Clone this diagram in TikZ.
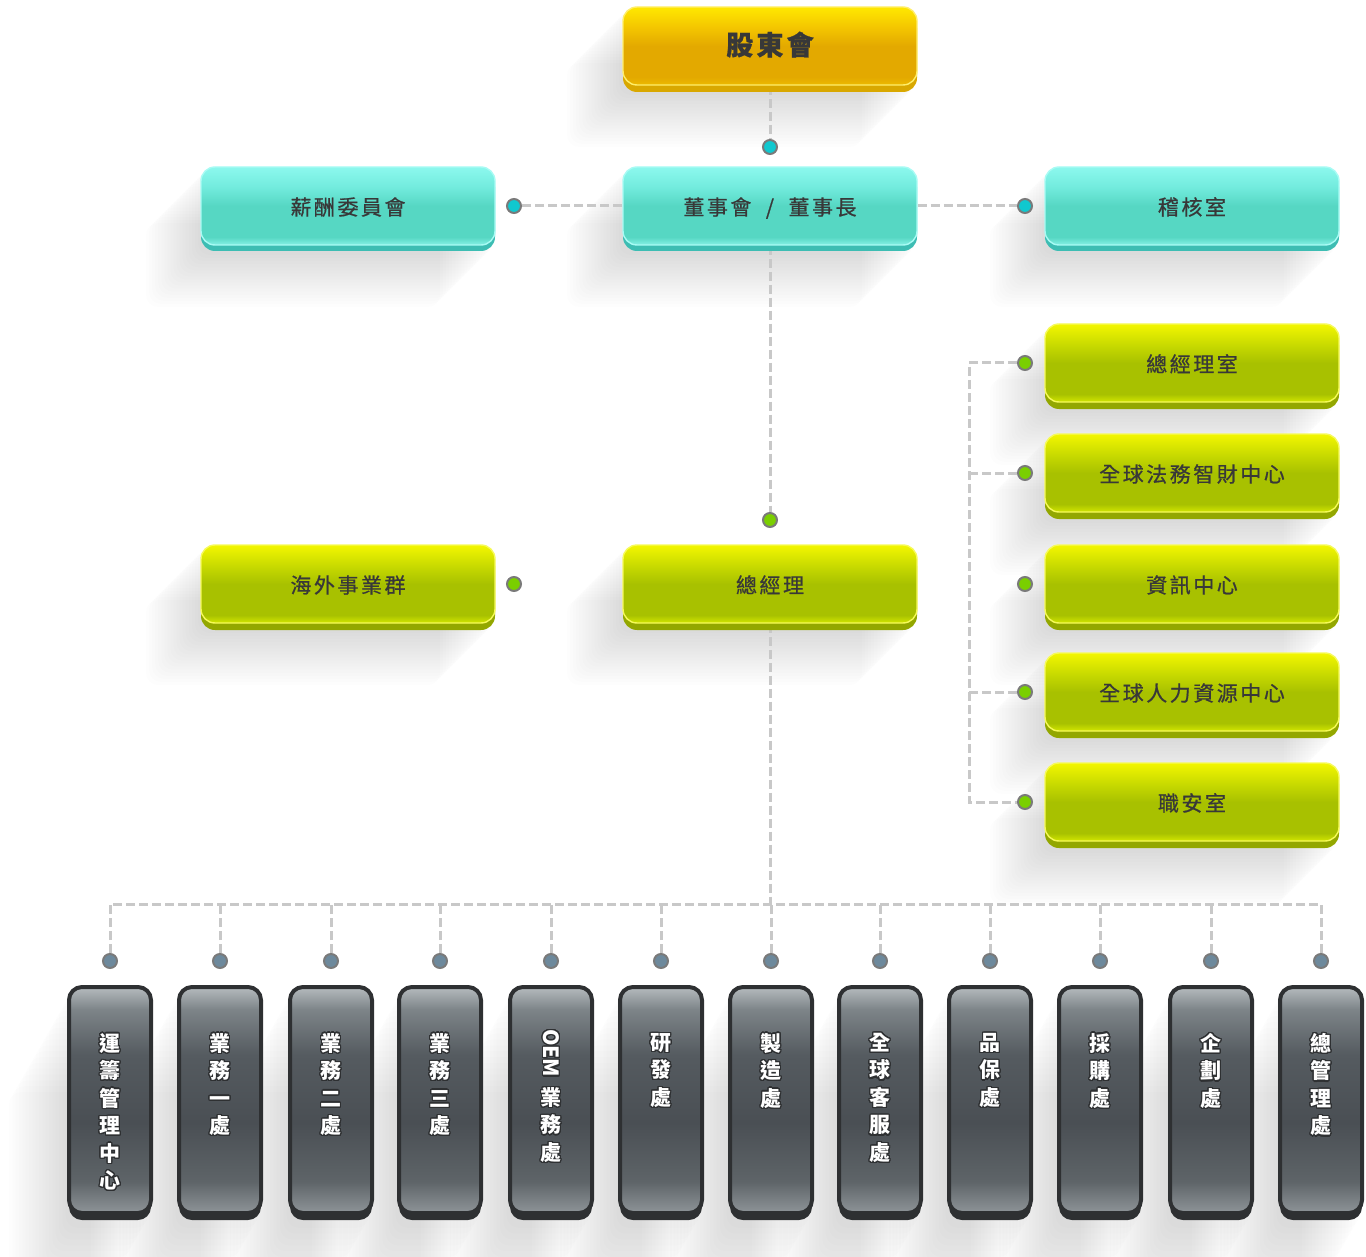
\documentclass[tikz,border=0pt]{standalone}
\usepackage{fontspec}
\usepackage{contour}
\usetikzlibrary{backgrounds}
\newfontfamily\cjk[LetterSpace=12,FakeBold=0.7]{Noto Sans CJK TC}
\newfontfamily\cjkv{Noto Sans CJK TC}
\contourlength{1.2pt}
\contournumber{24}

\definecolor{goldA}{HTML}{FFE800}
\definecolor{goldB}{HTML}{F4C600}
\definecolor{goldC}{HTML}{E3A900}
\definecolor{goldD}{HTML}{EDBA00}
\definecolor{goldR}{HTML}{D9A800}
\definecolor{goldL}{HTML}{FFEE6A}
\definecolor{cyanA}{HTML}{8CF8EE}
\definecolor{cyanB}{HTML}{72EBDD}
\definecolor{cyanC}{HTML}{56D7C3}
\definecolor{cyanD}{HTML}{86F1E6}
\definecolor{cyanR}{HTML}{3DBDB3}
\definecolor{cyanL}{HTML}{A8FBF4}
\definecolor{greenA}{HTML}{F3F600}
\definecolor{greenB}{HTML}{C9DB00}
\definecolor{greenC}{HTML}{A8C100}
\definecolor{greenD}{HTML}{D3E700}
\definecolor{greenR}{HTML}{93A700}
\definecolor{greenL}{HTML}{F6FA5A}
\definecolor{grayA}{HTML}{B5BBBE}
\definecolor{grayB}{HTML}{7D8488}
\definecolor{grayC}{HTML}{555B60}
\definecolor{grayD}{HTML}{4A4F54}
\definecolor{grayE}{HTML}{5E6468}
\definecolor{grayF}{HTML}{8E9498}
\definecolor{grayedge}{HTML}{2E3032}
\definecolor{txt}{HTML}{383838}
\definecolor{dashc}{HTML}{C8C8C8}
\definecolor{dotedge}{HTML}{7A7A7A}
\definecolor{dotcyan}{HTML}{10C8CF}
\definecolor{dotgreen}{HTML}{7ACF00}
\definecolor{dotblue}{HTML}{6D899C}

\pgfdeclareverticalshading{goldglass}{100bp}{color(0bp)=(goldD); color(25bp)=(goldD); color(30bp)=(goldC); color(50bp)=(goldC); color(62bp)=(goldB); color(75bp)=(goldA); color(100bp)=(goldA)}
\pgfdeclareverticalshading{cyanglass}{100bp}{color(0bp)=(cyanD); color(25bp)=(cyanD); color(30bp)=(cyanC); color(50bp)=(cyanC); color(62bp)=(cyanB); color(75bp)=(cyanA); color(100bp)=(cyanA)}
\pgfdeclareverticalshading{greenglass}{100bp}{color(0bp)=(greenD); color(25bp)=(greenD); color(30bp)=(greenC); color(50bp)=(greenC); color(62bp)=(greenB); color(75bp)=(greenA); color(100bp)=(greenA)}
\pgfdeclareverticalshading{grayglass}{100bp}{color(0bp)=(grayF); color(25bp)=(grayF); color(32bp)=(grayE); color(45bp)=(grayD); color(60bp)=(grayC); color(70bp)=(grayB); color(75bp)=(grayA); color(100bp)=(grayA)}

\def\castshade(#1,#2,#3,#4,#5,#6){\foreach \k in {1,...,18}{\fill[castfill] (#1-\k*#5/18,#2+\k*#6/18) rectangle (#3-\k*#5/18,#4+\k*#6/18);}}
\newcommand\ct[1]{\contour{grayedge}{#1}}

\tikzset{
  castfill/.style={fill=black, fill opacity=0.0065, rounded corners=12pt},
  box/.style={rectangle, rounded corners=14pt, minimum width=294pt, minimum height=78pt, inner sep=0pt, text=txt, line width=1.4pt, text height=24pt, text depth=6pt, font=\cjk\fontsize{21}{21}\selectfont},
  goldbox/.style={box, shade, shading=goldglass, draw=goldL, preaction={fill=goldR, transform canvas={yshift=-7pt}}},
  cyanbox/.style={box, shade, shading=cyanglass, draw=cyanL, preaction={fill=cyanR, transform canvas={yshift=-6pt}}},
  greenbox/.style={box, shade, shading=greenglass, draw=greenL, preaction={fill=greenR, transform canvas={yshift=-7pt}}},
  graybox/.style={rectangle, rounded corners=13pt, minimum width=82pt, minimum height=226pt, inner sep=0pt, shade, shading=grayglass, draw=grayedge, line width=4pt, preaction={fill=grayedge, transform canvas={yshift=-7pt}}},
  vtext/.style={anchor=north, yshift=-48pt, align=center, inner sep=0pt, text=white, font=\cjkv\bfseries\fontsize{21}{27.5}\selectfont},
  dot/.style={circle, minimum size=14pt, inner sep=0pt, draw=dotedge, line width=2pt},
  cyandot/.style={dot, fill=dotcyan},
  greendot/.style={dot, fill=dotgreen},
  bluedot/.style={dot, fill=dotblue},
  link/.style={draw=dashc, line width=3pt, dash pattern=on 9pt off 4pt}
}

\begin{document}
\begin{tikzpicture}[x=1pt, y=-1pt]
\useasboundingbox (0,0) rectangle (1366,1257);

\node[goldbox, font=\cjk\bfseries\fontsize{27}{27}\selectfont, text height=26pt, text depth=8pt] (gudong) at (770,46) {股東會};

\node[cyanbox] (xinchou) at (348,206) {薪酬委員會};
\node[cyanbox] (dongshi) at (770,206) {董事會\ \ /\ \ 董事長};
\node[cyanbox] (jihe) at (1192,206) {稽核室};

\node[greenbox] (haiwai) at (348,584) {海外事業群};
\node[greenbox] (zong) at (770,584) {總經理};

\node[greenbox] (zongshi) at (1192,363) {總經理室};
\node[greenbox] (fawu) at (1192,473) {全球法務智財中心};
\node[greenbox] (zixun) at (1192,584) {資訊中心};
\node[greenbox] (renli) at (1192,692) {全球人力資源中心};
\node[greenbox] (zhian) at (1192,802) {職安室};

\node[cyandot] (dtop) at (770,147) {};
\node[cyandot] (dleft) at (514,206) {};
\node[cyandot] (dright) at (1025,206) {};
\node[greendot] (dzong) at (770,520) {};
\node[greendot] (dhaiwai) at (514,584) {};
\node[greendot] (r1) at (1025,363) {};
\node[greendot] (r2) at (1025,473) {};
\node[greendot] (r3) at (1025,584) {};
\node[greendot] (r4) at (1025,692) {};
\node[greendot] (r5) at (1025,802) {};

\coordinate (brk) at (969,363);
\coordinate (bus) at (770,904);

\node[graybox] (g1) at (110,1100) {};
\node[vtext] (t1) at (g1.north) {\ct{運}\\\ct{籌}\\\ct{管}\\\ct{理}\\\ct{中}\\\ct{心}};
\node[bluedot] (b1) at (110,961) {};

\node[graybox] (g2) at (220,1100) {};
\node[vtext] (t2) at (g2.north) {\ct{業}\\\ct{務}\\\ct{一}\\\ct{處}};
\node[bluedot] (b2) at (220,961) {};

\node[graybox] (g3) at (331,1100) {};
\node[vtext] (t3) at (g3.north) {\ct{業}\\\ct{務}\\\ct{二}\\\ct{處}};
\node[bluedot] (b3) at (331,961) {};

\node[graybox] (g4) at (440,1100) {};
\node[vtext] (t4) at (g4.north) {\ct{業}\\\ct{務}\\\ct{三}\\\ct{處}};
\node[bluedot] (b4) at (440,961) {};

\node[graybox] (g5) at (551,1100) {};
\node[vtext, yshift=4pt] (t5) at (g5.north) {\rotatebox{-90}{\ct{OEM}}\\[9pt]\ct{業}\\\ct{務}\\\ct{處}};
\node[bluedot] (b5) at (551,961) {};

\node[graybox] (g6) at (661,1100) {};
\node[vtext] (t6) at (g6.north) {\ct{研}\\\ct{發}\\\ct{處}};
\node[bluedot] (b6) at (661,961) {};

\node[graybox] (g7) at (771,1100) {};
\node[vtext] (t7) at (g7.north) {\ct{製}\\\ct{造}\\\ct{處}};
\node[bluedot] (b7) at (771,961) {};

\node[graybox] (g8) at (880,1100) {};
\node[vtext] (t8) at (g8.north) {\ct{全}\\\ct{球}\\\ct{客}\\\ct{服}\\\ct{處}};
\node[bluedot] (b8) at (880,961) {};

\node[graybox] (g9) at (990,1100) {};
\node[vtext] (t9) at (g9.north) {\ct{品}\\\ct{保}\\\ct{處}};
\node[bluedot] (b9) at (990,961) {};

\node[graybox] (g10) at (1100,1100) {};
\node[vtext] (t10) at (g10.north) {\ct{採}\\\ct{購}\\\ct{處}};
\node[bluedot] (b10) at (1100,961) {};

\node[graybox] (g11) at (1211,1100) {};
\node[vtext] (t11) at (g11.north) {\ct{企}\\\ct{劃}\\\ct{處}};
\node[bluedot] (b11) at (1211,961) {};

\node[graybox] (g12) at (1321,1100) {};
\node[vtext] (t12) at (g12.north) {\ct{總}\\\ct{管}\\\ct{理}\\\ct{處}};
\node[bluedot] (b12) at (1321,961) {};

\begin{scope}[on background layer]
\castshade(622,8,917,92,55,55)
\castshade(201,168,495,252,55,55)
\castshade(622,168,917,252,55,55)
\castshade(1045,168,1339,252,55,55)
\castshade(201,545,495,630,55,55)
\castshade(622,545,917,630,55,55)
\castshade(1045,324,1339,410,55,55)
\castshade(1045,434,1339,520,55,55)
\castshade(1045,545,1339,630,55,55)
\castshade(1045,653,1339,739,55,55)
\castshade(1045,763,1339,850,55,55)
\castshade(69,987,151,1222,60,105)
\castshade(179,987,261,1222,60,105)
\castshade(290,987,372,1222,60,105)
\castshade(399,987,481,1222,60,105)
\castshade(510,987,592,1222,60,105)
\castshade(620,987,702,1222,60,105)
\castshade(730,987,812,1222,60,105)
\castshade(839,987,921,1222,60,105)
\castshade(949,987,1031,1222,60,105)
\castshade(1059,987,1141,1222,60,105)
\castshade(1170,987,1252,1222,60,105)
\castshade(1280,987,1362,1222,60,105)

\draw[link] (gudong.south) -- (dtop);
\draw[link] (dongshi.west) -- (dleft);
\draw[link] (dongshi.east) -- (dright);
\draw[link] (dongshi.south) -- (dzong);
\draw[link] (r1) -- (r1-|brk) -- (r5-|brk) -- (r5);
\draw[link] (r2) -- (r2-|brk);
\draw[link] (r4) -- (r4-|brk);
\draw[link] (zong.south) -- (bus);
\draw[link] (b1) -- (b1|-bus) -- (b12|-bus) -- (b12);
\draw[link] (b2) -- (b2|-bus);
\draw[link] (b3) -- (b3|-bus);
\draw[link] (b4) -- (b4|-bus);
\draw[link] (b5) -- (b5|-bus);
\draw[link] (b6) -- (b6|-bus);
\draw[link] (b7) -- (b7|-bus);
\draw[link] (b8) -- (b8|-bus);
\draw[link] (b9) -- (b9|-bus);
\draw[link] (b10) -- (b10|-bus);
\draw[link] (b11) -- (b11|-bus);
\end{scope}
\end{tikzpicture}
\end{document}
